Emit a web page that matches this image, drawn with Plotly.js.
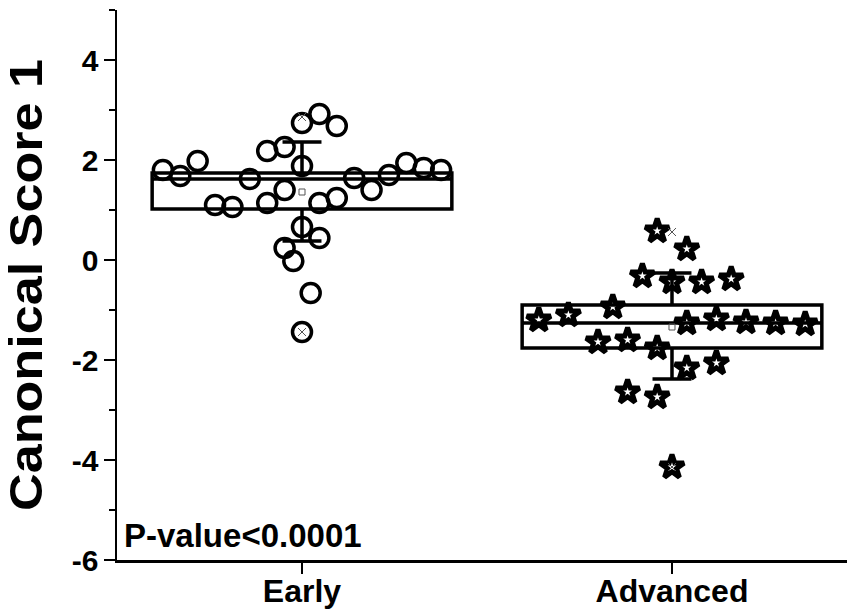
<!DOCTYPE html>
<html>
<head>
<meta charset="utf-8">
<script src="https://cdn.plot.ly/plotly-3.0.1.min.js"></script>
<style>
html,body{margin:0;padding:0;background:#fff;}
#chart{width:847px;height:610px;}
</style>
</head>
<body>
<div id="chart"></div>
<script>
// ---- data ----
const categories = ["Early", "Advanced"];

// Early group: canonical scores and beeswarm slot (horizontal jitter slot index)
const earlyScores = [1.80, 1.68, 1.98, 1.10, 1.06, 1.62, 2.18, 1.14, 2.26, 1.40, 0.24, -0.02, 1.88, 0.66, 2.74, 2.92, 2.68, 1.14, 1.24, 0.44, -0.66, -1.44, 1.64, 1.40, 1.70, 1.94, 1.84, 1.80];
const earlySlots  = [-8, -7, -6, -5, -4, -3, -2, -2, -1, -1, -1, -0.5, 0, 0, 0, 1, 2, 1, 2, 1, 0.5, 0, 3, 4, 5, 6, 7, 8];

// Advanced group
const advancedScores = [-1.20, -1.10, -0.94, -1.64, -1.60, -1.76, 0.58, 0.22, -0.32, -0.44, -0.44, -0.38, -1.26, -1.18, -1.24, -1.26, -1.28, -2.16, -2.06, -2.64, -2.74, -4.14];
const advancedSlots  = [-9, -7, -4, -5, -3, -1, -1, 1, -2, 0, 2, 4, 1, 3, 5, 7, 9, 1, 3, -3, -1, 0];

// box statistics (box = IQR, whiskers = mean ± SD)
const boxQ1     = [1.02, -1.76];
const boxMedian = [1.62, -1.26];
const boxQ3     = [1.74, -0.90];
const boxLower  = [0.38, -2.38];
const boxUpper  = [2.36, -0.26];
const groupMean = [1.36, -1.34];
const groupMin  = [-1.44, -4.14];
const groupMax  = [2.86, 0.56];

const yTickVals  = [-6, -4, -2, 0, 2, 4];
const yTickText  = ["-6", "-4", "-2", "0", "2", "4"];
const yTitleText = "Canonical Score 1";
const pValueText = "P-value<0.0001";

// ---- styles ----
const FONT = "Arial, 'Liberation Sans', sans-serif";
const earlySpacing = 0.047;
const advancedSpacing = 0.040;

const traces = [];
// boxes
categories.forEach((c, i) => {
  traces.push({
    type: 'box',
    x: [i],
    q1: [boxQ1[i]], median: [boxMedian[i]], q3: [boxQ3[i]],
    lowerfence: [boxLower[i]], upperfence: [boxUpper[i]],
    width: 0.81,
    whiskerwidth: 0.13,
    fillcolor: 'rgba(0,0,0,0)',
    line: {color: '#000', width: 3.5},
    boxpoints: false,
    hoverinfo: 'skip',
    showlegend: false
  });
});
// early points
traces.push({
  type: 'scatter', mode: 'markers',
  x: earlySlots.map(s => 0 + s * earlySpacing),
  y: earlyScores,
  marker: {symbol: 'circle-open', size: 19, color: '#000', line: {width: 3.5, color: '#000'}},
  showlegend: false, hoverinfo: 'y'
});
// advanced points
traces.push({
  type: 'scatter', mode: 'markers',
  x: advancedSlots.map(s => 1 + s * advancedSpacing),
  y: advancedScores,
  marker: {symbol: 'star-open', size: 18, color: '#000', line: {width: 5, color: '#000'}},
  showlegend: false, hoverinfo: 'y'
});
// means
traces.push({
  type: 'scatter', mode: 'markers',
  x: [0, 1], y: groupMean,
  marker: {symbol: 'square-open', size: 6, color: '#555', line: {width: 1, color: '#555'}},
  showlegend: false, hoverinfo: 'y'
});
// min / max
traces.push({
  type: 'scatter', mode: 'markers',
  x: [0, 1, 0, 1], y: groupMin.concat(groupMax),
  marker: {symbol: 'x-thin-open', size: 8, color: '#555', line: {width: 1, color: '#555'}},
  showlegend: false, hoverinfo: 'y'
});

const layout = {
  width: 847, height: 610,
  margin: {l: 117, r: 0, t: 10, b: 50},
  paper_bgcolor: '#fff', plot_bgcolor: '#fff',
  showlegend: false,
  font: {family: FONT, color: '#000'},
  xaxis: {
    range: [-0.5, 1.473],
    tickvals: [0, 1], ticktext: categories,
    showline: true, linecolor: '#000', linewidth: 2.5,
    ticks: 'outside', ticklen: 11, tickwidth: 2, tickcolor: '#000',
    ticklabelstandoff: -10,
    showgrid: false, zeroline: false,
    tickfont: {family: FONT, size: 32, color: '#000', weight: 'bold'}
  },
  yaxis: {
    range: [-6, 5],
    tickvals: yTickVals, ticktext: yTickText,
    showline: true, linecolor: '#000', linewidth: 2.5,
    ticks: 'outside', ticklen: 11, tickwidth: 2, tickcolor: '#000',
    ticklabelstandoff: -1,
    minor: {dtick: 1, ticks: 'outside', ticklen: 6, tickwidth: 2, tickcolor: '#000', showgrid: false},
    showgrid: false, zeroline: false,
    tickfont: {family: FONT, size: 30, color: '#000', weight: 'bold'},
    title: {text: yTitleText, standoff: 15, font: {family: FONT, size: 46, color: '#000', weight: 'bold'}}
  },
  annotations: [{
    xref: 'paper', yref: 'y', x: 0, y: -5.5,
    xanchor: 'left', yanchor: 'middle', xshift: 5,
    text: pValueText, showarrow: false,
    font: {family: FONT, size: 33, color: '#000', weight: 'bold'}
  }]
};

Plotly.newPlot('chart', traces, layout, {displayModeBar: false, staticPlot: true}).then(gd => {
  // the reference's axis title is drawn slightly stretched along its length
  const t = gd.querySelector('.ytitle');
  if (t) {
    t.setAttribute('textLength', '452');
    t.setAttribute('lengthAdjust', 'spacingAndGlyphs');
  }
});
</script>
</body>
</html>
